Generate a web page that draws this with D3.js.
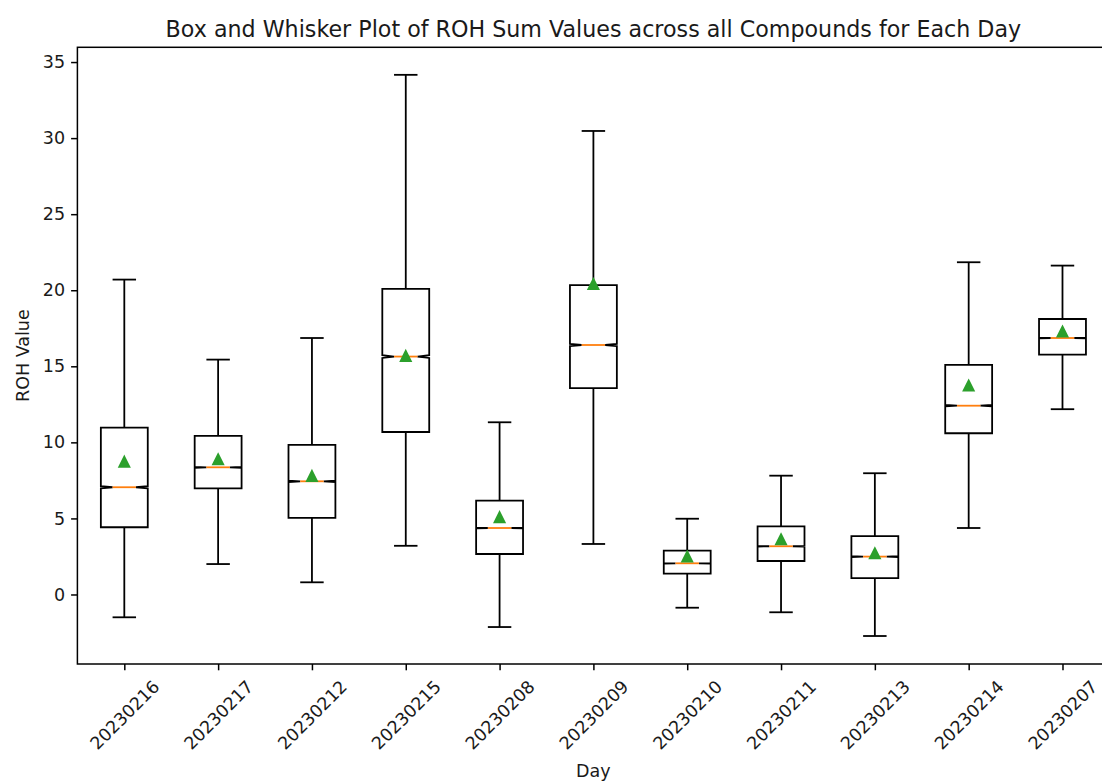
<!DOCTYPE html>
<html>
<head>
<meta charset="utf-8">
<script src="https://cdn.jsdelivr.net/npm/d3@7"></script>
<style>
  html, body { margin: 0; padding: 0; background: #fff; }
  svg { display: block; font-family: "DejaVu Sans", sans-serif; }
</style>
</head>
<body>
<svg id="chart" width="1102" height="781"></svg>
<script>
// Daily ROH sum statistics (one entry per day)
const days = ["20230216", "20230217", "20230212", "20230215", "20230208", "20230209",
              "20230210", "20230211", "20230213", "20230214", "20230207"];
const whiskerLow  = [-1.50, 2.00, 0.80, 3.20, -2.14, 3.32, -0.87, -1.17, -2.73, 4.37, 12.18];
const q1          = [4.42, 6.98, 5.03, 10.68, 2.66, 13.56, 1.37, 2.20, 1.08, 10.60, 15.77];
const median      = [7.05, 8.36, 7.44, 15.64, 4.37, 16.40, 2.05, 3.17, 2.49, 12.41, 16.86];
const q3          = [10.97, 10.42, 9.83, 20.09, 6.17, 20.33, 2.88, 4.48, 3.83, 15.09, 18.11];
const whiskerHigh = [20.70, 15.44, 16.86, 34.16, 11.32, 30.47, 4.98, 7.81, 7.97, 21.84, 21.62];
const mean        = [8.73, 8.89, 7.79, 15.68, 5.08, 20.41, 2.49, 3.63, 2.71, 13.73, 17.28];
// half-range of the median confidence interval (notch)
const notchCI     = [0.07, 0.035, 0.05, 0.09, 0.03, 0.07, 0.015, 0.02, 0.025, 0.045, 0.02];
const yTicks = [0, 5, 10, 15, 20, 25, 30, 35];

const title = "Box and Whisker Plot of ROH Sum Values across all Compounds for Each Day";
const xLabel = "Day";
const yLabel = "ROH Value";

(function () {
const boxes = days.map((d, i) => ({
  day: d, pos: i + 1,
  lo: whiskerLow[i], q1: q1[i], med: median[i], q3: q3[i], hi: whiskerHigh[i],
  mean: mean[i], ci: notchCI[i]
}));

const svg = d3.select("#chart");
const plotL = 77.4, plotR = 1109.4, plotT = 47.3, plotB = 664;

const x = d3.scaleLinear().domain([0.5, days.length + 0.5]).range([plotL, plotR]);
const y = d3.scaleLinear().domain([-4.57, 35.97]).range([plotB, plotT]);

const boxHalf = 0.25;   // data units
const notchHalf = 0.125;
const capHalf = 0.125;
const lw = 1.8;
const lineColor = "#000";
const tickFont = 17.5;
const textColor = "#1a1a1a";

// boxes
const g = svg.append("g");
boxes.forEach(b => {
  const bl = x(b.pos - boxHalf), br = x(b.pos + boxHalf);
  const nl = x(b.pos - notchHalf), nr = x(b.pos + notchHalf);
  const p = d3.path();
  p.moveTo(bl, y(b.q1));
  p.lineTo(br, y(b.q1));
  p.lineTo(br, y(b.med - b.ci));
  p.lineTo(nr, y(b.med));
  p.lineTo(br, y(b.med + b.ci));
  p.lineTo(br, y(b.q3));
  p.lineTo(bl, y(b.q3));
  p.lineTo(bl, y(b.med + b.ci));
  p.lineTo(nl, y(b.med));
  p.lineTo(bl, y(b.med - b.ci));
  p.closePath();
  g.append("path").attr("d", p.toString())
    .attr("fill", "none").attr("stroke", lineColor).attr("stroke-width", lw)
    .attr("stroke-linejoin", "miter").attr("stroke-miterlimit", 2);

  // whiskers and caps
  [[b.q1, b.lo], [b.q3, b.hi]].forEach(([a, c]) => {
    g.append("line").attr("x1", x(b.pos)).attr("x2", x(b.pos))
      .attr("y1", y(a)).attr("y2", y(c))
      .attr("stroke", lineColor).attr("stroke-width", lw);
    g.append("line").attr("x1", x(b.pos - capHalf)).attr("x2", x(b.pos + capHalf))
      .attr("y1", y(c)).attr("y2", y(c))
      .attr("stroke", lineColor).attr("stroke-width", lw);
  });

  // median
  g.append("line").attr("x1", nl).attr("x2", nr)
    .attr("y1", y(b.med)).attr("y2", y(b.med))
    .attr("stroke", "#ff7f0e").attr("stroke-width", lw);
});

// mean markers
const tri = 5.1;
g.selectAll("path.mean").data(boxes).enter().append("path")
  .attr("class", "mean")
  .attr("d", `M0,${-tri}L${tri},${tri}L${-tri},${tri}Z`)
  .attr("transform", d => `translate(${x(d.pos)},${y(d.mean)})`)
  .attr("fill", "#2ca02c").attr("stroke", "#2ca02c").attr("stroke-width", lw)
  .attr("stroke-linejoin", "miter");

// frame
svg.append("rect").attr("x", plotL).attr("y", plotT)
  .attr("width", plotR - plotL).attr("height", plotB - plotT)
  .attr("fill", "none").attr("stroke", "#000").attr("stroke-width", 1.5);

// y axis
const yAxis = svg.append("g").attr("transform", `translate(${plotL},0)`)
  .call(d3.axisLeft(y).tickValues(yTicks).tickFormat(d3.format("d"))
        .tickSize(6.3).tickPadding(6));
yAxis.select(".domain").remove();
yAxis.selectAll(".tick line").attr("stroke", "#000").attr("stroke-width", 1.5);
yAxis.selectAll(".tick text").attr("font-size", tickFont)
  .attr("font-family", "DejaVu Sans").attr("fill", textColor);

// x axis
const xAxis = svg.append("g").attr("transform", `translate(0,${plotB})`)
  .call(d3.axisBottom(x).tickValues(boxes.map(b => b.pos))
        .tickFormat((d, i) => days[i]).tickSize(6.3).tickPadding(6));
xAxis.select(".domain").remove();
xAxis.selectAll(".tick line").attr("stroke", "#000").attr("stroke-width", 1.5);
xAxis.selectAll(".tick text").each(function () {
  const t = d3.select(this);
  t.attr("font-size", tickFont).attr("font-family", "DejaVu Sans").attr("fill", textColor)
   .attr("dy", null).attr("y", null).attr("text-anchor", "middle")
   .attr("dominant-baseline", "central");
  const w = this.getComputedTextLength();
  const h = tickFont * 1.164;
  const side = (w + h) * Math.SQRT1_2;
  const cy = 6.3 + 6.1 + side / 2;
  t.attr("transform", `translate(0,${cy}) rotate(-45)`);
});

// titles
svg.append("text").attr("x", (plotL + plotR) / 2).attr("y", 36.5)
  .attr("text-anchor", "middle").attr("font-size", 22.2).attr("fill", textColor)
  .text(title);
svg.append("text").attr("x", (plotL + plotR) / 2).attr("y", 777)
  .attr("text-anchor", "middle").attr("font-size", tickFont).attr("fill", textColor)
  .text(xLabel);
svg.append("text")
  .attr("transform", `translate(23,${(plotT + plotB) / 2}) rotate(-90)`)
  .attr("text-anchor", "middle").attr("dominant-baseline", "central")
  .attr("font-size", tickFont).attr("fill", textColor)
  .text(yLabel);
})();
</script>
</body>
</html>
